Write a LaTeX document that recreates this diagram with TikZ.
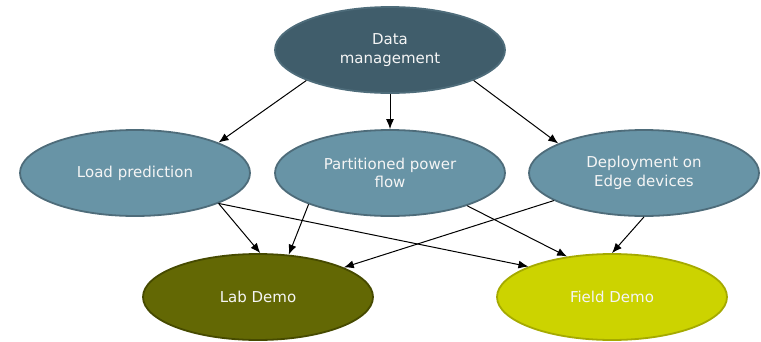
\documentclass[tikz,border=0pt]{standalone}
\usepackage{fontspec}
\setmainfont{DejaVu Sans}
\usetikzlibrary{shapes.geometric,arrows.meta}

\definecolor{topblue}{RGB}{64,93,107}
\definecolor{midblue}{RGB}{104,148,166}
\definecolor{rimblue}{RGB}{78,108,122}
\definecolor{labolive}{RGB}{99,104,4}
\definecolor{labrim}{RGB}{70,74,0}
\definecolor{fieldlime}{RGB}{204,211,0}
\definecolor{fieldrim}{RGB}{165,170,0}

\tikzset{
  blob/.style={ellipse, minimum width=230pt, minimum height=86pt, inner sep=0pt,
    line width=1.8pt, align=center, text=white!92!gray,
    font=\fontsize{15}{18.5}\selectfont},
  link/.style={-{Latex[length=10pt,width=8pt]}, line width=1pt, black}
}

\begin{document}
\begin{tikzpicture}[x=1pt,y=-1pt]
  \useasboundingbox (0,0) rectangle (761,341);

  % top level
  \node[blob, fill=topblue, draw=rimblue] (data) at (390,50) {Data\\management};

  % middle row
  \node[blob, fill=midblue, draw=rimblue] (load) at (135,173) {Load prediction};
  \node[blob, fill=midblue, draw=rimblue] (flow) at (390,173) {Partitioned power\\flow};
  \node[blob, fill=midblue, draw=rimblue] (edge) at (644,173) {Deployment on\\Edge devices};

  % demos
  \node[blob, fill=labolive, draw=labrim] (lab) at (258,297) {Lab Demo};
  \node[blob, fill=fieldlime, draw=fieldrim] (field) at (612,297) {Field Demo};

  % arrows from data management
  \draw[link] (data.200) -- (load.20);
  \draw[link] (data.south) -- (flow.north);
  \draw[link] (data.340) -- (edge.161);

  % arrows to the demos
  \draw[link] (load.340) -- (lab.87);
  \draw[link] (load.340) -- (field.160);
  \draw[link] (flow.201) -- (lab.54);
  \draw[link] (flow.337) -- (field.138);
  \draw[link] (edge.197) -- (lab.19);
  \draw[link] (edge.south) -- (field.north);
\end{tikzpicture}
\end{document}
